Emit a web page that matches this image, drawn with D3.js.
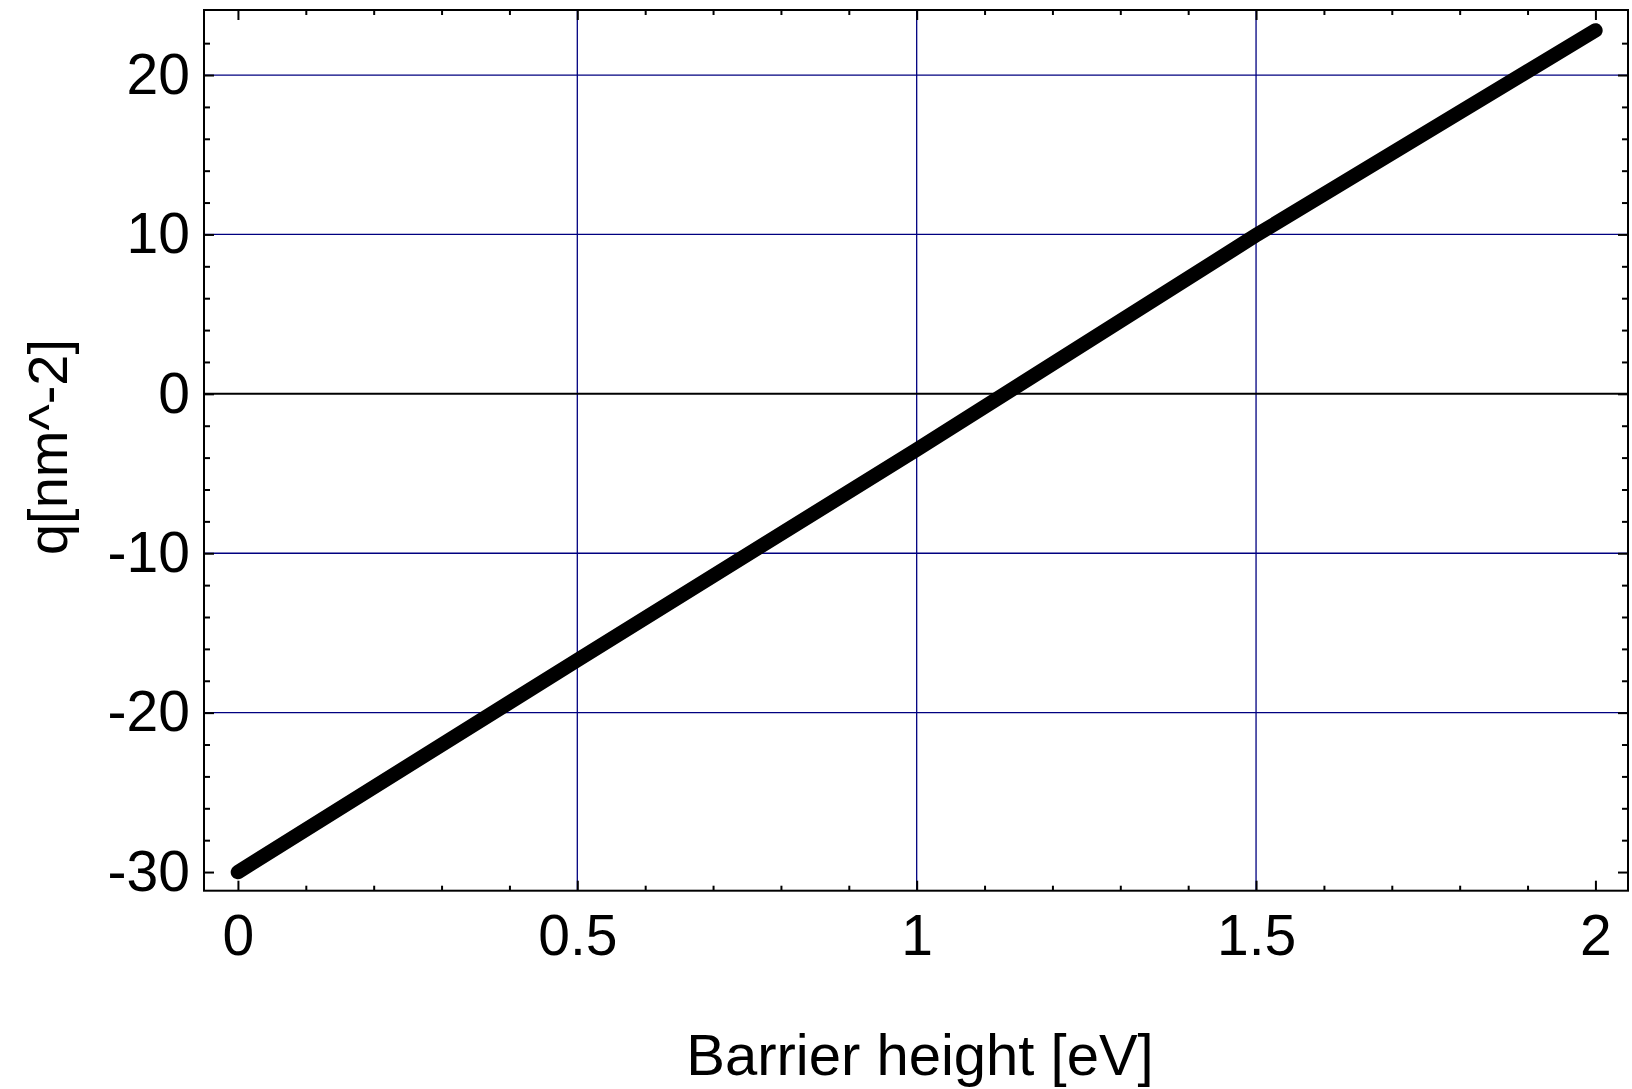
<!DOCTYPE html>
<html>
<head>
<meta charset="utf-8">
<script src="https://cdn.jsdelivr.net/npm/d3@7"></script>
<style>
  html, body { margin: 0; padding: 0; background: #fff; }
  svg { display: block; }
  text { font-family: "Liberation Sans", Arial, sans-serif; fill: #000; }
</style>
</head>
<body>
<svg id="chart" width="1632" height="1089"></svg>
<script>
// ---- data ----
const barrierHeight = [0, 0.5, 1, 1.5, 2];
const qValues = [-30, -16.7, -3.5, 9.95, 22.8];
const xMajorTicks = [0, 0.5, 1, 1.5, 2];
const xTickLabels = ["0", "0.5", "1", "1.5", "2"];
const yMajorTicks = [-30, -20, -10, 0, 10, 20];
const yTickLabels = ["-30", "-20", "-10", "0", "10", "20"];
const xGrid = [0.5, 1, 1.5];
const yGrid = [-20, -10, 10, 20];
const xLabel = "Barrier height [eV]";
const yLabel = "q[nm^-2]";

// ---- layout ----
const L = 204, R = 1628, T = 10, B = 890.7;
const svg = d3.select("#chart");
svg.append("rect").attr("width", 1632).attr("height", 1089).attr("fill", "#fff");

const x = d3.scaleLinear().domain([-0.05, 2.048]).range([L, R]);
const y = d3.scaleLinear().domain([-31.17, 24.08]).range([B, T]);

const xMinor = d3.range(0, 21).map(i => i / 10).filter(v => !xMajorTicks.some(m => Math.abs(m - v) < 1e-9));
const yMinor = d3.range(-30, 25, 2).filter(v => v % 10 !== 0 && v < 24);

// grid
const g = svg.append("g");
g.selectAll("line.vg").data(xGrid).join("line")
  .attr("x1", d => x(d)).attr("x2", d => x(d)).attr("y1", T).attr("y2", B)
  .attr("stroke", "#000080").attr("stroke-width", 1.3);
g.selectAll("line.hg").data(yGrid).join("line")
  .attr("x1", L).attr("x2", R).attr("y1", d => y(d)).attr("y2", d => y(d))
  .attr("stroke", "#000080").attr("stroke-width", 1.3);
g.append("line").attr("x1", L).attr("x2", R).attr("y1", y(0)).attr("y2", y(0))
  .attr("stroke", "#000").attr("stroke-width", 2);

// axes (ticks inward)
function styleAxis(sel) {
  sel.select(".domain").remove();
  sel.selectAll(".tick line").attr("stroke", "#000").attr("stroke-width", 2);
  sel.selectAll(".tick text").attr("font-size", 57).attr("font-family", '"Liberation Sans", Arial, sans-serif').attr("fill", "#000");
}
const fmtX = d => xTickLabels[xMajorTicks.indexOf(d)];
const fmtY = d => yTickLabels[yMajorTicks.indexOf(d)];

svg.append("g").attr("transform", `translate(0,${B})`)
  .call(d3.axisBottom(x).tickValues(xMajorTicks).tickSize(-10).tickPadding(24).tickFormat(fmtX)).call(styleAxis);
svg.append("g").attr("transform", `translate(0,${B})`)
  .call(d3.axisBottom(x).tickValues(xMinor).tickSize(-5).tickFormat("")).call(styleAxis);
svg.append("g").attr("transform", `translate(0,${T})`)
  .call(d3.axisTop(x).tickValues(xMajorTicks).tickSize(-10).tickFormat("")).call(styleAxis);
svg.append("g").attr("transform", `translate(0,${T})`)
  .call(d3.axisTop(x).tickValues(xMinor).tickSize(-5).tickFormat("")).call(styleAxis);

svg.append("g").attr("transform", `translate(${L},0)`)
  .call(d3.axisLeft(y).tickValues(yMajorTicks).tickSize(-10).tickPadding(14).tickFormat(fmtY)).call(styleAxis);
svg.append("g").attr("transform", `translate(${L},0)`)
  .call(d3.axisLeft(y).tickValues(yMinor).tickSize(-6).tickFormat("")).call(styleAxis);
svg.append("g").attr("transform", `translate(${R},0)`)
  .call(d3.axisRight(y).tickValues(yMajorTicks).tickSize(-10).tickFormat("")).call(styleAxis);
svg.append("g").attr("transform", `translate(${R},0)`)
  .call(d3.axisRight(y).tickValues(yMinor).tickSize(-6).tickFormat("")).call(styleAxis);

// frame
svg.append("rect").attr("x", L).attr("y", T).attr("width", R - L).attr("height", B - T)
  .attr("fill", "none").attr("stroke", "#000").attr("stroke-width", 2);

// data line
const data = barrierHeight.map((b, i) => [b, qValues[i]]);
svg.append("path").datum(data)
  .attr("d", d3.line().x(d => x(d[0])).y(d => y(d[1])))
  .attr("fill", "none").attr("stroke", "#000").attr("stroke-width", 14.5)
  .attr("stroke-linecap", "round").attr("stroke-linejoin", "round");

// axis labels
svg.append("text").attr("x", 920).attr("y", 1075).attr("text-anchor", "middle")
  .attr("font-size", 58).text(xLabel);
svg.append("text").attr("transform", "translate(67,447) rotate(-90)").attr("text-anchor", "middle")
  .attr("font-size", 56).text(yLabel);
</script>
</body>
</html>
